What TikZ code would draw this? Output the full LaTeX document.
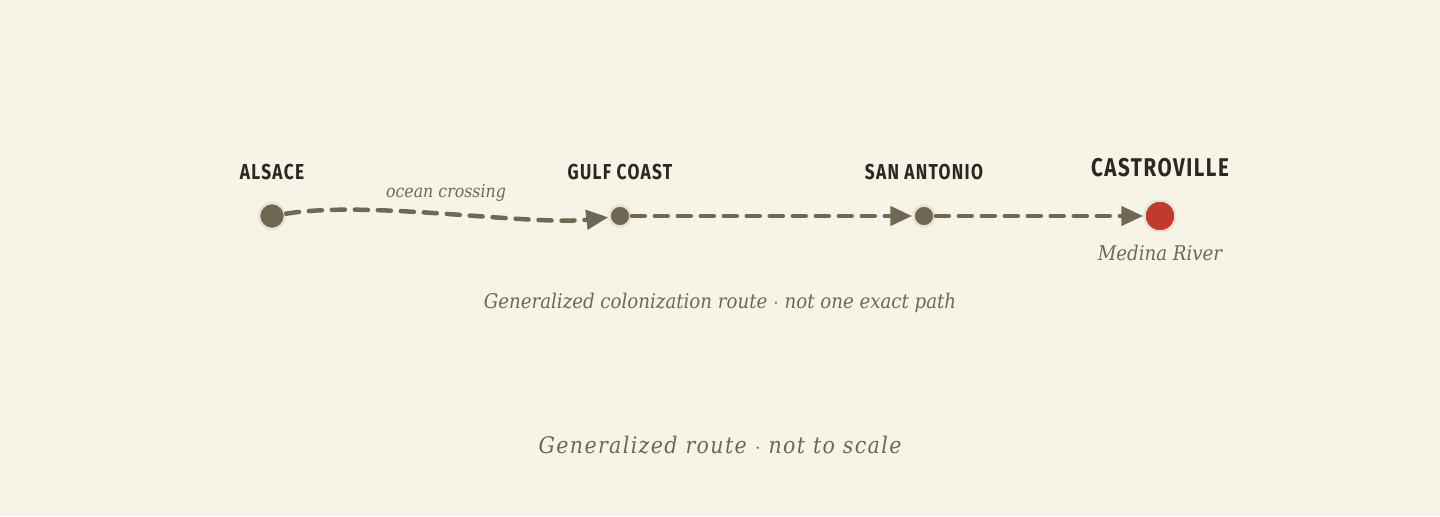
\documentclass[tikz,border=0pt]{standalone}
\usepackage{fontspec}
\usepackage{xcolor}
\usetikzlibrary{arrows.meta}
\newfontfamily\placefont[FakeStretch=0.8,LetterSpace=6]{Fira Sans}
\newfontfamily\notefont{DejaVu Serif Condensed}
\newfontfamily\widenotefont[LetterSpace=6]{DejaVu Serif Condensed}
\definecolor{paper}{HTML}{F6F3E7}
\definecolor{route}{HTML}{6F6853}
\definecolor{halo}{HTML}{E9E4CF}
\definecolor{ink}{HTML}{2A2921}
\definecolor{muted}{HTML}{6C675A}
\definecolor{brick}{HTML}{C0392B}
\tikzset{
    town/.style = {circle, draw=halo, line width=0.05cm, fill=route, inner sep=0pt, minimum size=0.42cm, node contents={}},
    bigtown/.style = {town, minimum size=0.52cm},
    goal/.style = {town, fill=brick, minimum size=0.62cm},
    placename/.style = {font=\placefont\bfseries\fontsize{12.3}{15}\selectfont, text=ink, inner sep=0pt},
    note/.style = {font=\notefont\itshape\fontsize{11.5}{14}\selectfont, text=muted, inner sep=0pt, anchor=base},
    leg/.style = {draw=route, line width=0.09cm, dash pattern=on 0.26cm off 0.2cm, line cap=round, -{Triangle[length=0.44cm,width=0.38cm]}},
}
\begin{document}
\begin{tikzpicture}
    \fill[paper] (0,0) rectangle (28.8,10.32);
    \node (alsace) at (5.44,6) [bigtown, label={[placename, label distance=0.43cm]above:ALSACE}];
    \node (gulf) at (12.4,6) [town, label={[placename, label distance=0.48cm]above:GULF COAST}];
    \node (sanantonio) at (18.48,6) [town, label={[placename, label distance=0.48cm]above:SAN ANTONIO}];
    \node (castro) at (23.2,6) [goal, label={[placename, font=\placefont\bfseries\fontsize{14.6}{17}\selectfont, label distance=0.43cm]above:CASTROVILLE}];
    \draw[leg] (alsace) .. controls (7.4,6.32) and (10.6,5.8) .. (gulf);
    \draw[leg] (gulf) -- (sanantonio);
    \draw[leg] (sanantonio) -- (castro);
    \node[note, font=\notefont\itshape\fontsize{10}{12}\selectfont] (crossing) at (8.92,6.38) {ocean crossing};
    \node[note, font=\notefont\itshape\fontsize{11.5}{13}\selectfont] (river) at (23.2,5.12) {Medina River};
    \node[note] (caveat) at (14.4,4.16) {Generalized colonization route $\cdot$ not one exact path};
    \node[note, font=\widenotefont\itshape\fontsize{13}{16}\selectfont] (scale) at (14.4,1.26) {Generalized route $\cdot$ not to scale};
\end{tikzpicture}
\end{document}
